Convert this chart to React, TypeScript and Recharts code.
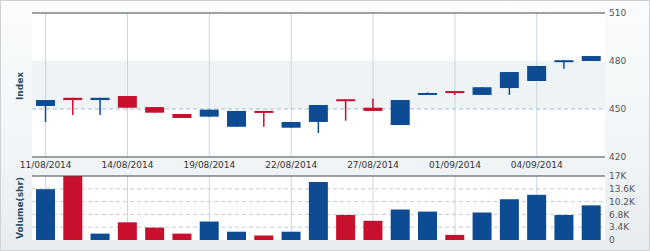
import React from 'react';
import { ComposedChart, Bar, XAxis, YAxis, CartesianGrid, ReferenceLine, Cell } from 'recharts';

const dates = ['11/08/2014','12/08/2014','13/08/2014','14/08/2014','15/08/2014','18/08/2014','19/08/2014','20/08/2014','21/08/2014','22/08/2014','25/08/2014','26/08/2014','27/08/2014','28/08/2014','29/08/2014','01/09/2014','02/09/2014','03/09/2014','04/09/2014','05/09/2014','08/09/2014'];
const opens = [451.9, 457.0, 455.6, 458.1, 451.2, 446.9, 445.2, 438.9, 448.8, 438.3, 441.9, 456.1, 450.8, 440.0, 459.3, 461.2, 458.8, 463.1, 467.5, 479.8, 480.0];
const highs = [455.6, 457.0, 457.0, 458.1, 451.2, 446.9, 449.6, 448.8, 448.8, 441.9, 452.5, 456.1, 456.5, 455.6, 460.4, 461.2, 463.6, 473.1, 476.9, 480.5, 483.1];
const lows = [441.9, 446.2, 446.2, 450.8, 447.7, 444.4, 445.2, 438.9, 438.9, 438.3, 435.0, 442.7, 448.8, 440.0, 459.3, 458.8, 458.8, 458.8, 467.5, 475.2, 480.0];
const closes = [455.6, 455.6, 457.0, 450.8, 447.7, 444.4, 449.6, 448.8, 447.8, 441.9, 452.5, 455.0, 448.8, 455.6, 460.0, 460.2, 463.6, 473.1, 476.9, 480.5, 483.1];
const volumes = [13500, 17000, 1700, 4700, 3300, 1700, 4900, 2200, 1200, 2200, 15400, 6650, 5100, 8100, 7550, 1350, 7300, 10800, 12000, 6650, 9200];
const priceTicks = [420, 450, 480, 510];
const volumeTicks = [0, 3400, 6800, 10200, 13600, 17000];
const labelledDates = ['11/08/2014','14/08/2014','19/08/2014','22/08/2014','27/08/2014','01/09/2014','04/09/2014'];

const BLUE = '#0d4b93';
const RED = '#c8102e';
const BORDER = '#3c4750';
const VGRID = '#c9d6e0';

const data = dates.map((d, i) => ({
  date: d,
  open: opens[i],
  high: highs[i],
  low: lows[i],
  close: closes[i],
  volume: volumes[i],
}));

const Candle = (props: any) => {
  const { x, y, width, height, payload } = props;
  if (x == null || y == null) return null;
  const { open, close, high, low } = payload;
  const top = Math.min(y, y + height);
  const h = Math.abs(height);
  const pix = (v: number) => (high === low ? top : top + ((high - v) / (high - low)) * h);
  const color = close >= open ? BLUE : RED;
  const bt = pix(Math.max(open, close));
  const bb = pix(Math.min(open, close));
  const bh = Math.max(bb - bt, 2);
  const cx = x + width / 2;
  return (
    <g>
      <line x1={cx} x2={cx} y1={top} y2={top + h} stroke={color} strokeWidth={1.5} />
      <rect x={x} y={bt} width={width} height={bh} fill={color} />
    </g>
  );
};

const applyScale = (s: any, v: any): number | null => {
  if (!s) return null;
  if (typeof s === 'function') return s(v);
  if (typeof s.map === 'function') return s.map(v);
  if (typeof s.apply === 'function') return s.apply(v);
  return null;
};

const vGen = (args: any) => {
  const xa = args && args.xAxis;
  const s = xa && xa.scale;
  const out: number[] = [];
  const bw = s && typeof s.bandwidth === 'function' ? s.bandwidth() : 0;
  labelledDates.forEach((d) => {
    const p = applyScale(s, d);
    if (p != null && !isNaN(p)) out.push(p + bw / 2);
  });
  if (out.length) return out;
  const off = args.offset;
  return labelledDates.map((d) => off.left + ((dates.indexOf(d) + 0.5) * off.width) / dates.length);
};

const hGenFor = (vals: number[], dom: [number, number]) => (args: any) => {
  const ya = args && args.yAxis;
  const s = ya && ya.scale;
  const out: number[] = [];
  vals.forEach((v) => {
    const p = applyScale(s, v);
    if (p != null && !isNaN(p)) out.push(p);
  });
  if (out.length) return out;
  const off = args.offset;
  return vals.map((v) => off.top + ((dom[1] - v) / (dom[1] - dom[0])) * off.height);
};

const volFmt = (v: number) => (v === 0 ? '0' : `${v / 1000}K`);

const tickStyle = { fontSize: 9, fill: '#555', fontFamily: 'DejaVu Sans, Verdana, sans-serif' };

export default function App() {
  return (
    <div
      style={{
        position: 'absolute',
        left: 0,
        top: 0,
        width: 650,
        height: 251,
        boxSizing: 'border-box',
        border: '1px solid #cdd2d6',
        background: 'linear-gradient(to bottom, #fafcfd 0%, #f1f5f7 60%, #e7ecef 100%)',
        overflow: 'hidden',
        fontFamily: 'DejaVu Sans, Verdana, sans-serif',
      }}
    >
      <div style={{ position: 'absolute', left: -1, top: -1 }}>
        <ComposedChart width={650} height={175} data={data} margin={{ top: 13, right: 3, bottom: 0, left: 32 }} barCategoryGap={0}>
          <CartesianGrid
            vertical={false}
            stroke="none"
            fill="#ffffff"
            horizontalCoordinatesGenerator={hGenFor([510, 480, 450], [420, 510])}
            horizontalFill={['#ffffff', '#eef3f6', '#ffffff']}
          />
          <CartesianGrid horizontal={false} stroke={VGRID} verticalCoordinatesGenerator={vGen} />
          <CartesianGrid
            vertical={false}
            stroke="#a9bccb"
            strokeDasharray="4 3"
            horizontalCoordinatesGenerator={hGenFor([450], [420, 510])}
          />
          <XAxis
            dataKey="date"
            interval={2}
            height={18}
            axisLine={{ stroke: BORDER }}
            tickLine={false}
            tickSize={0}
            tickMargin={5}
            tick={{ ...tickStyle, fill: '#333' }}
          />
          <YAxis
            orientation="right"
            domain={[420, 510]}
            ticks={priceTicks}
            interval={0}
            width={42}
            axisLine={false}
            tickLine={false}
            tickSize={0}
            tickMargin={4}
            tick={tickStyle}
          />
          <YAxis yAxisId="l" orientation="left" width={0} domain={[420, 510]} tick={false} axisLine={{ stroke: BORDER }} tickLine={false} />
          <ReferenceLine y={510} stroke={BORDER} />
          <Bar dataKey={(d: any) => [d.low, d.high]} barSize={19} shape={Candle} isAnimationActive={false} />
        </ComposedChart>
      </div>

      <div style={{ position: 'absolute', left: -1, top: 169 }}>
        <ComposedChart width={650} height={82} data={data} margin={{ top: 6, right: 3, bottom: 12, left: 32 }} barCategoryGap={0}>
          <CartesianGrid horizontal={false} stroke={VGRID} fill="#ffffff" verticalCoordinatesGenerator={vGen} />
          <CartesianGrid
            vertical={false}
            stroke="#c3ced8"
            strokeDasharray="4 3"
            horizontalCoordinatesGenerator={hGenFor([3400, 6800, 10200, 13600], [0, 17000])}
          />
          <XAxis dataKey="date" hide />
          <YAxis
            orientation="right"
            domain={[0, 17000]}
            ticks={volumeTicks}
            interval={0}
            tickFormatter={volFmt}
            width={42}
            axisLine={false}
            tickLine={false}
            tickSize={0}
            tickMargin={4}
            tick={tickStyle}
          />
          <YAxis yAxisId="l" orientation="left" width={0} domain={[0, 17000]} tick={false} axisLine={{ stroke: BORDER }} tickLine={false} />
          <ReferenceLine y={17000} stroke={BORDER} />
          <Bar dataKey="volume" barSize={19} isAnimationActive={false}>
            {data.map((d, i) => (
              <Cell key={i} fill={d.close >= d.open ? BLUE : RED} />
            ))}
          </Bar>
        </ComposedChart>
      </div>

      <div
        style={{
          position: 'absolute',
          left: 19,
          top: 85,
          transform: 'translate(-50%, -50%) rotate(-90deg)',
          fontSize: 9,
          fontWeight: 'bold',
          color: '#1e4f66',
          whiteSpace: 'nowrap',
          lineHeight: 1,
        }}
      >
        Index
      </div>
      <div
        style={{
          position: 'absolute',
          left: 19,
          top: 207,
          transform: 'translate(-50%, -50%) rotate(-90deg)',
          fontSize: 9,
          fontWeight: 'bold',
          color: '#1e4f66',
          whiteSpace: 'nowrap',
          lineHeight: 1,
        }}
      >
        Volume(shr)
      </div>
    </div>
  );
}
